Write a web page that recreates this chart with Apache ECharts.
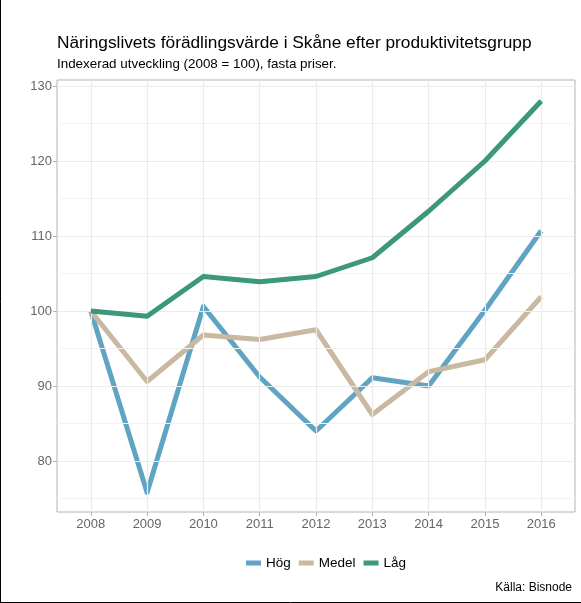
<!DOCTYPE html>
<html>
<head>
<meta charset="utf-8">
<script src="https://cdn.jsdelivr.net/npm/echarts@6/dist/echarts.min.js"></script>
<style>
  html, body { margin: 0; padding: 0; background: #fff; }
  #root { width: 581px; height: 603px; }
</style>
</head>
<body>
<div id="root"></div>
<script>
// data
var years = [2008, 2009, 2010, 2011, 2012, 2013, 2014, 2015, 2016]
var hog = [100, 75.8, 100.6, 91.2, 84.0, 91.1, 90.0, 100.1, 110.7]
var medel = [100, 90.6, 96.8, 96.2, 97.5, 86.2, 91.9, 93.5, 101.9]
var lag = [100, 99.3, 104.6, 103.9, 104.6, 107.1, 113.3, 120.0, 128.0]
var yTicks = [80, 90, 100, 110, 120, 130]
var yMinor = [75, 85, 95, 105, 115, 125]

var names = ['Hög', 'Medel', 'Låg']
var colors = ['#5fa4c3', '#c8b9a0', '#3b987b']

function pairs (vals) {
  return vals.map(function (v, i) { return [years[i], v] })
}

var font = 'Liberation Sans, Arial, sans-serif'
var chart = echarts.init(document.getElementById('root'), null, { renderer: 'canvas' })

// panel grid lines, major and minor
var gridLines = []
yMinor.forEach(function (v) {
  gridLines.push({ yAxis: v, lineStyle: { color: '#f2f2f2', width: 1, type: 'solid' } })
})
yTicks.forEach(function (v) {
  gridLines.push({ yAxis: v, lineStyle: { color: '#ebebeb', width: 1.2, type: 'solid' } })
})
years.forEach(function (v) {
  gridLines.push({ xAxis: v, lineStyle: { color: '#ebebeb', width: 1.2, type: 'solid' } })
})

var series = [{
  name: 'grid',
  type: 'line',
  data: [],
  z: 1,
  silent: true,
  markLine: {
    silent: true,
    symbol: 'none',
    label: { show: false },
    animation: false,
    data: gridLines
  }
}]
;[hog, medel, lag].forEach(function (vals, i) {
  series.push({
    name: names[i],
    type: 'line',
    data: pairs(vals),
    z: 3 + i,
    showSymbol: false,
    symbol: 'none',
    color: colors[i],
    lineStyle: { width: 5, color: colors[i], cap: 'butt', join: 'round' }
  })
})

var option = {
  animation: false,
  backgroundColor: '#fff',
  title: [{
    text: 'Näringslivets förädlingsvärde i Skåne efter produktivitetsgrupp',
    left: 52,
    top: 30,
    textStyle: { fontFamily: font, fontSize: 17.3, fontWeight: 'normal', color: '#000' }
  }, {
    text: 'Indexerad utveckling (2008 = 100), fasta priser.',
    left: 52,
    top: 53,
    textStyle: { fontFamily: font, fontSize: 13.4, fontWeight: 'normal', color: '#000' }
  }, {
    text: 'Källa: Bisnode',
    right: 4,
    top: 577,
    textStyle: { fontFamily: font, fontSize: 12, fontWeight: 'normal', color: '#000' }
  }],
  legend: {
    data: names,
    left: 241,
    top: 551,
    itemWidth: 15,
    itemHeight: 5,
    itemGap: 8,
    icon: 'rect',
    textStyle: { fontFamily: font, fontSize: 13.5, color: '#000', padding: [0, 0, 0, 0] }
  },
  grid: {
    left: 57,
    right: 6,
    top: 80,
    bottom: 91,
    show: true,
    borderColor: '#b3b3b3',
    borderWidth: 1,
    backgroundColor: '#fff'
  },
  xAxis: {
    type: 'value',
    min: 2007.4,
    max: 2016.6,
    axisLine: { show: false },
    splitLine: { show: false },
    axisTick: { show: true, customValues: years, length: 4, lineStyle: { color: '#b3b3b3' } },
    axisLabel: {
      customValues: years,
      color: '#666',
      fontFamily: font,
      fontSize: 13,
      margin: 6,
      formatter: function (v) { return String(v) }
    }
  },
  yAxis: {
    type: 'value',
    min: 73.2,
    max: 130.8,
    axisLine: { show: false },
    splitLine: { show: false },
    axisTick: { show: true, customValues: yTicks, length: 4, lineStyle: { color: '#b3b3b3' } },
    axisLabel: {
      customValues: yTicks,
      color: '#666',
      fontFamily: font,
      fontSize: 13,
      margin: 5
    }
  },
  graphic: [{
    type: 'line',
    shape: { x1: 0.5, y1: 0, x2: 0.5, y2: 602.5 },
    style: { stroke: '#000', lineWidth: 1 }
  }, {
    type: 'line',
    shape: { x1: 0, y1: 602.5, x2: 581, y2: 602.5 },
    style: { stroke: '#000', lineWidth: 1 }
  }],
  series: series
}

chart.setOption(option)
</script>
</body>
</html>
